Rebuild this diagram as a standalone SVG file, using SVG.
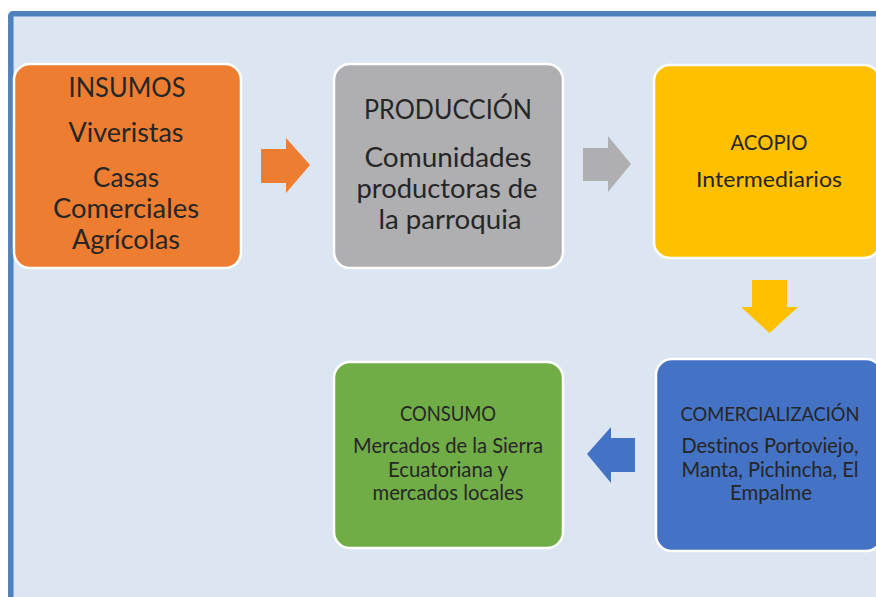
<svg xmlns="http://www.w3.org/2000/svg" width="876" height="597" viewBox="0 0 876 597">
<style>
.box{stroke:#ffffff;stroke-width:2.5}
.t{font-family:Lato,"Liberation Sans",sans-serif;fill:#262626;text-anchor:middle;font-variant-ligatures:none}
.L{font-size:27px}
.S{font-size:21px}
</style>
<rect x="0" y="0" width="876" height="597" fill="#ffffff"/>
<rect id="frame" x="10.8" y="13.8" width="880" height="600" rx="2" fill="#DCE6F2" stroke="#4F81BD" stroke-width="5.5"/>
<g id="connectors">
<polygon points="261,149 286,149 286,138 310,165 286,193 286,183 261,183" fill="#ED7D31"/>
<polygon points="583,148 608,148 608,136 631,164 608,192 608,181 583,181" fill="#AFAFB1"/>
<polygon points="752,280 787,280 787,307 798,307 769.5,333 741,307 752,307" fill="#FFC000"/>
<polygon points="635,438 611,438 611,427 587,454 611,483 611,472 635,472" fill="#4472C4"/>
</g>
<g id="insumos">
<rect class="box" x="14" y="64" width="227" height="204" rx="16" fill="#ED7D31"/>
<text class="t L" x="127" y="97" textLength="117" lengthAdjust="spacingAndGlyphs">INSUMOS</text>
<text class="t L" x="126" y="142" textLength="115" lengthAdjust="spacingAndGlyphs">Viveristas</text>
<text class="t L" x="126" y="187" textLength="66" lengthAdjust="spacingAndGlyphs">Casas</text>
<text class="t L" x="126" y="218" textLength="146" lengthAdjust="spacingAndGlyphs">Comerciales</text>
<text class="t L" x="126" y="249" textLength="108" lengthAdjust="spacingAndGlyphs">Agrícolas</text>
</g>
<g id="produccion">
<rect class="box" x="334" y="64" width="229" height="204" rx="16" fill="#AFAFB1"/>
<text class="t L" x="448" y="119" textLength="168" lengthAdjust="spacingAndGlyphs">PRODUCCIÓN</text>
<text class="t L" x="448" y="167" textLength="167" lengthAdjust="spacingAndGlyphs">Comunidades</text>
<text class="t L" x="447" y="198" textLength="181" lengthAdjust="spacingAndGlyphs">productoras de</text>
<text class="t L" x="450" y="229" textLength="143" lengthAdjust="spacingAndGlyphs">la parroquia</text>
</g>
<g id="acopio">
<rect class="box" x="654" y="65" width="226" height="193" rx="16" fill="#FFC000"/>
<text class="t S" x="769" y="150" textLength="77" lengthAdjust="spacingAndGlyphs">ACOPIO</text>
<text class="t S" x="769" y="187" textLength="146" lengthAdjust="spacingAndGlyphs">Intermediarios</text>
</g>
<g id="consumo">
<rect class="box" x="334" y="362" width="229" height="186" rx="16" fill="#70AD47"/>
<text class="t S" x="448" y="421" textLength="96" lengthAdjust="spacingAndGlyphs">CONSUMO</text>
<text class="t S" x="448" y="453" textLength="190" lengthAdjust="spacingAndGlyphs">Mercados de la Sierra</text>
<text class="t S" x="448" y="477" textLength="120" lengthAdjust="spacingAndGlyphs">Ecuatoriana y</text>
<text class="t S" x="448" y="500" textLength="151" lengthAdjust="spacingAndGlyphs">mercados locales</text>
</g>
<g id="comercializacion">
<rect class="box" x="656" y="359" width="226" height="192" rx="16" fill="#4472C4"/>
<text class="t" style="font-size:19px" x="770" y="421" textLength="179" lengthAdjust="spacingAndGlyphs">COMERCIALIZACIÓN</text>
<text class="t S" x="770" y="453" textLength="177" lengthAdjust="spacingAndGlyphs">Destinos Portoviejo,</text>
<text class="t S" x="770" y="477" textLength="177" lengthAdjust="spacingAndGlyphs">Manta, Pichincha, El</text>
<text class="t S" x="771" y="500" textLength="82" lengthAdjust="spacingAndGlyphs">Empalme</text>
</g>
</svg>
